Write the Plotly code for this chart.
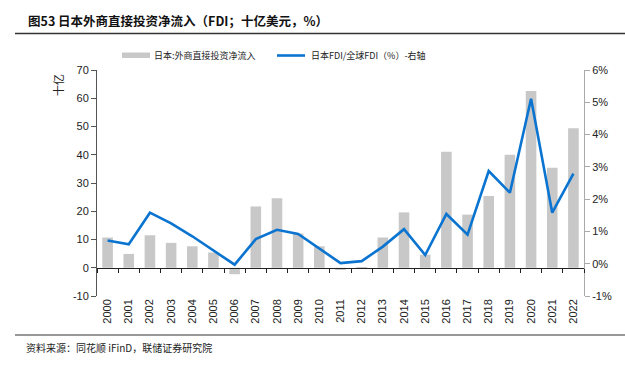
import plotly.graph_objects as go

years = [str(y) for y in range(2000, 2023)]
fdi_net_inflow = [10.7, 4.9, 11.5, 8.8, 7.6, 5.4, -2.3, 21.7, 24.6, 12.1, 7.6, -0.8, 0.2,
                  10.7, 19.6, 4.6, 41.1, 18.8, 25.4, 40.0, 62.6, 35.4, 49.4]
fdi_share_pct = [0.72, 0.60, 1.58, 1.25, 0.85, 0.42, -0.03, 0.76, 1.05, 0.92, 0.48, 0.02, 0.08,
                 0.53, 1.07, 0.27, 1.54, 0.90, 2.87, 2.20, 5.11, 1.58, 2.79]
left_ticks = [-10, 0, 10, 20, 30, 40, 50, 60, 70]
left_labels = [str(v) for v in left_ticks]
right_ticks = [-1, 0, 1, 2, 3, 4, 5, 6]
right_labels = [f"{v}%" for v in right_ticks]

bar_name = "日本:外商直接投资净流入"
line_name = "日本FDI/全球FDI（%）-右轴"
title_text = "图53 日本外商直接投资净流入（FDI；十亿美元，%）"
source_text = "资料来源：同花顺 iFinD，联储证券研究院"

BAR_COLOR = "#C8C8C8"
LINE_COLOR = "#0A74D0"
CJK = "Noto Sans CJK SC, Liberation Sans, Arial, sans-serif"
NUM = "Liberation Sans, Arial, sans-serif"

W, H = 625, 366
L, R, T, B = 97, 41, 70, 70
pw, ph = W - L - R, H - T - B

def px_x(x):
    return (x - L) / pw

def px_y(y):
    return (H - B - y) / ph

fig = go.Figure()
fig.add_trace(go.Bar(x=years, y=fdi_net_inflow, name=bar_name, marker_color=BAR_COLOR,
                     marker_line_width=0, yaxis="y", xaxis="x", showlegend=False))
fig.add_trace(go.Scatter(x=years, y=fdi_share_pct, name=line_name, mode="lines",
                         line=dict(color=LINE_COLOR, width=2.6), yaxis="y2", xaxis="x",
                         showlegend=False))
# helper trace for the zero-line axis with boundary ticks
fig.add_trace(go.Scatter(x=years, y=[None] * len(years), xaxis="x2", yaxis="y",
                         showlegend=False, hoverinfo="skip"))

n = len(years)
fig.update_layout(
    width=W, height=H,
    margin=dict(l=L, r=R, t=T, b=B),
    paper_bgcolor="white", plot_bgcolor="white",
    bargap=0.5,
    font=dict(family=NUM, size=11, color="#222"),
    xaxis=dict(type="category", categoryorder="array", categoryarray=years,
               range=[-0.5, n - 0.5], showline=False, ticks="", showgrid=False,
               tickangle=-90, tickfont=dict(size=11, family=NUM, color="#222"),
               anchor="y", zeroline=False),
    xaxis2=dict(type="category", categoryorder="array", categoryarray=years,
                range=[-0.5, n - 0.5], overlaying="x", anchor="free",
                position=10 / 80, showline=True, linecolor="#222", linewidth=1.2,
                ticks="outside", tickson="boundaries", ticklen=4, tickcolor="#222",
                showticklabels=False, showgrid=False, zeroline=False),
    yaxis=dict(range=[-10, 70], tickvals=left_ticks, ticktext=left_labels,
               showgrid=False, zeroline=False,
               showline=True, linecolor="#555", linewidth=1, ticks="outside", ticklen=5,
               tickcolor="#555", tickfont=dict(size=11, family=NUM, color="#222")),
    yaxis2=dict(range=[-1, 6], tickvals=right_ticks, ticktext=right_labels,
                overlaying="y", side="right", showgrid=False, zeroline=False,
                showline=True, linecolor="#AAA", linewidth=1, ticks="outside", ticklen=5,
                tickcolor="#AAA", tickfont=dict(size=11, family=NUM, color="#222")),
)

shapes = []
annotations = []
# title + rule
annotations.append(dict(text="<b>" + title_text + "</b>", x=px_x(26), y=px_y(20), xref="paper",
                        yref="paper", xanchor="left", yanchor="middle", showarrow=False,
                        font=dict(family=CJK, size=12.5, color="#111")))
shapes.append(dict(type="line", xref="paper", yref="paper", x0=px_x(15), x1=px_x(626),
                   y0=px_y(33.5), y1=px_y(33.5), line=dict(color="#333", width=1.5)))
# source + rule
shapes.append(dict(type="line", xref="paper", yref="paper", x0=px_x(15), x1=px_x(626),
                   y0=px_y(335), y1=px_y(335), line=dict(color="#333", width=1.2)))
annotations.append(dict(text=source_text, x=px_x(24), y=px_y(347), xref="paper", yref="paper",
                        xanchor="left", yanchor="middle", showarrow=False,
                        font=dict(family=CJK, size=10, color="#222")))
# y-axis unit
annotations.append(dict(text="十亿", x=px_x(58), y=px_y(85), xref="paper", yref="paper",
                        xanchor="center", yanchor="middle", showarrow=False, textangle=-90,
                        font=dict(family=CJK, size=11, color="#222")))
# legend
shapes.append(dict(type="rect", xref="paper", yref="paper", x0=px_x(122), x1=px_x(150),
                   y0=px_y(58), y1=px_y(52.5), fillcolor=BAR_COLOR, line=dict(width=0)))
annotations.append(dict(text=bar_name, x=px_x(152), y=px_y(55), xref="paper", yref="paper",
                        xanchor="left", yanchor="middle", showarrow=False,
                        font=dict(family=CJK, size=9, color="#222")))
shapes.append(dict(type="line", xref="paper", yref="paper", x0=px_x(277), x1=px_x(305),
                   y0=px_y(55.5), y1=px_y(55.5), line=dict(color=LINE_COLOR, width=2.6)))
annotations.append(dict(text=line_name, x=px_x(309), y=px_y(55), xref="paper", yref="paper",
                        xanchor="left", yanchor="middle", showarrow=False,
                        font=dict(family=CJK, size=9, color="#222")))

fig.update_layout(shapes=shapes, annotations=annotations)
fig.write_html("out.html", config={"displayModeBar": False},
               post_script="document.body.style.margin='0';document.body.style.overflow='hidden';")
